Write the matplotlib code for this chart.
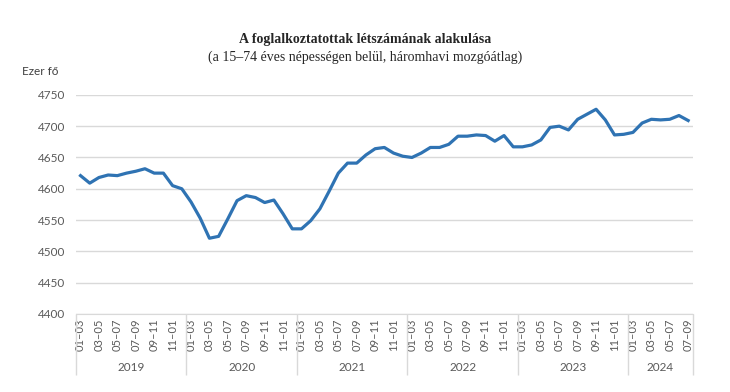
import matplotlib
matplotlib.use("Agg")
import matplotlib.pyplot as plt
import numpy as np

# havi (háromhavi mozgóátlag) adatok, ezer fő
years = ["2019", "2020", "2021", "2022", "2023", "2024"]
periods = ["01–03", "02–04", "03–05", "04–06", "05–07", "06–08",
           "07–09", "08–10", "09–11", "10–12", "11–01", "12–02"]

v2019 = [4621, 4609, 4618, 4622, 4621, 4625, 4628, 4632, 4625, 4625, 4605, 4600]
v2020 = [4579, 4553, 4521, 4524, 4552, 4581, 4589, 4586, 4578, 4582, 4560, 4536]
v2021 = [4536, 4549, 4568, 4596, 4625, 4641, 4641, 4654, 4664, 4666, 4657, 4652]
v2022 = [4650, 4657, 4666, 4666, 4671, 4684, 4684, 4686, 4685, 4676, 4685, 4667]
v2023 = [4667, 4670, 4678, 4698, 4700, 4694, 4711, 4719, 4727, 4710, 4686, 4687]
v2024 = [4690, 4705, 4711, 4710, 4711, 4717, 4709]

series = [v2019, v2020, v2021, v2022, v2023, v2024]
values = [v for s in series for v in s]
labels = [p for s in series for p in periods[:len(s)]]
x = np.arange(len(values))

GRID = "#d9d9d9"
TXT = "#595959"
FONT = ["Lato", "DejaVu Sans"]

fig = plt.figure(figsize=(7.3, 3.92), dpi=100)
ax = fig.add_axes([0.104, 0.199, 0.845, 0.559])

ax.plot(x, values, color="#2f73b3", lw=2.3, solid_joinstyle="round")

ax.set_xlim(-0.5, len(values) - 0.5)
ax.set_ylim(4400, 4750)
ax.set_yticks(np.arange(4400, 4751, 50))
ax.yaxis.grid(True, color=GRID, lw=1)
ax.set_axisbelow(True)
for s in ["top", "right", "left"]:
    ax.spines[s].set_visible(False)
ax.spines["bottom"].set_color(GRID)
ax.tick_params(axis="y", length=0, pad=8, labelsize=8.5, labelcolor=TXT)
for t in ax.get_yticklabels():
    t.set_family(FONT)

# x tengely: minden második időszak
ax.set_xticks(x[::2])
ax.set_xticklabels(labels[::2], rotation=90, fontsize=8, color=TXT, family=FONT)
ax.tick_params(axis="x", which="major", length=0, pad=3)

# évhatárok
bounds = [-0.5]
for s in series:
    bounds.append(bounds[-1] + len(s))
ax.set_xticks(bounds, minor=True)
ax.tick_params(axis="x", which="minor", length=44, color=GRID, width=1)

trans = matplotlib.transforms.blended_transform_factory(ax.transData, ax.transAxes)
for i, yr in enumerate(years):
    mid = (bounds[i] + bounds[i + 1]) / 2
    ax.text(mid, -0.242, yr, transform=trans, ha="center", va="center",
            fontsize=8.5, color=TXT, family=FONT)

fig.text(0.5, 0.898, "A foglalkoztatottak létszámának alakulása", ha="center", va="center",
         fontsize=10, fontweight="bold", family="Liberation Serif", color="#262626")
fig.text(0.5, 0.855, "(a 15–74 éves népességen belül, háromhavi mozgóátlag)", ha="center",
         va="center", fontsize=10, family="Liberation Serif", color="#262626")
fig.text(0.03, 0.818, "Ezer fő", ha="left", va="center", fontsize=8.5, color="#404040", family=FONT)

fig.savefig("out.png", dpi=100)
